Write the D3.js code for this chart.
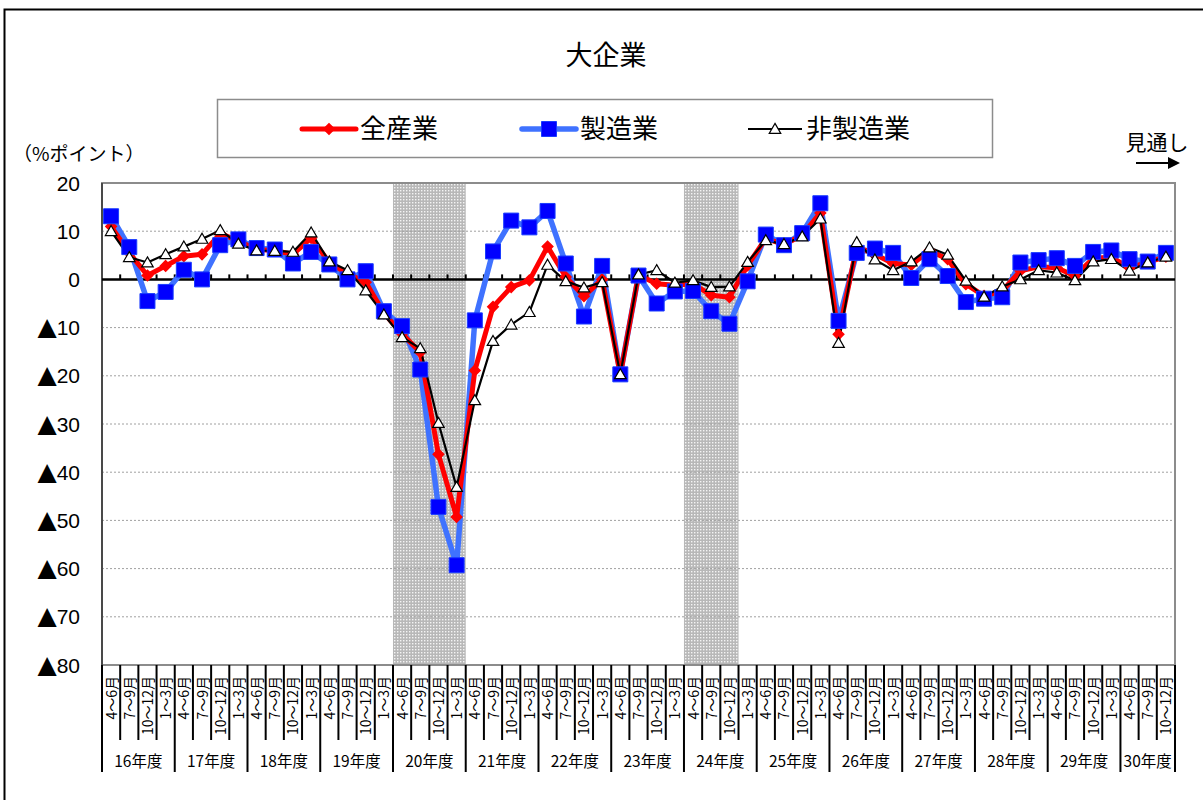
<!DOCTYPE html>
<html>
<head>
<meta charset="utf-8">
<script src="https://cdn.jsdelivr.net/npm/d3@7"></script>
<style>
  body { margin: 0; background: #fff; }
  svg { display: block; font-family: "Noto Sans CJK JP", "Liberation Sans", sans-serif; }
</style>
</head>
<body>
<div id="chart"></div>
<script>
// fiscal years and quarters
const years = ['16年度', '17年度', '18年度', '19年度', '20年度', '21年度', '22年度', '23年度',
  '24年度', '25年度', '26年度', '27年度', '28年度', '29年度', '30年度'];
const quartersPerYear = [4, 4, 4, 4, 4, 4, 4, 4, 4, 4, 4, 4, 4, 4, 3];
const quarterLabels = ['4～6月', '7～9月', '10～12月', '1～3月'];

// 全産業
const allIndustry = [11, 5.5, 0.8, 2.8, 4.8, 5.2, 9.5, 8, 6.2, 6,
  5.2, 8.6, 3.5, 1.2, -0.6, -7, -11.3, -15.1, -36.3, -49.3,
  -18.9, -5.7, -1.6, -0.2, 6.8, 0.5, -3.5, 0, -19.8, 0.9,
  -0.9, -1.2, -0.9, -3.3, -3.7, 2.9, 8.5, 7.2, 9.2, 13.8,
  -11.4, 6.8, 5.2, 3.3, 3.0, 6.0, 4.2, -1.0, -3.4, -2.4,
  1.8, 2.6, 2.4, 0.7, 4.4, 4.6, 2.4, 3.6, 4.7];
// 製造業
const manufacturing = [13.1, 6.7, -4.5, -2.6, 2.0, 0, 7.1, 8.3, 6.5, 6.2,
  3.3, 5.7, 3.1, 0, 1.7, -6.6, -9.7, -18.7, -47.2, -59.3,
  -8.5, 5.8, 12.2, 10.8, 14.2, 3.3, -7.7, 2.8, -19.7, 0.8,
  -5.0, -2.5, -2.4, -6.6, -9.2, -0.4, 9.3, 7.1, 9.6, 15.8,
  -8.6, 5.5, 6.4, 5.5, 0.3, 4.2, 0.7, -4.7, -4.0, -3.7,
  3.5, 4.0, 4.4, 2.8, 5.7, 6.0, 4.2, 3.7, 5.5];
// 非製造業
const nonManufacturing = [10, 4.6, 3.5, 5.2, 6.8, 8.4, 10.2, 7.4, 6.0, 5.9,
  5.7, 9.7, 3.7, 1.9, -2.3, -7.3, -12, -14.3, -29.8, -43.1,
  -25.1, -12.8, -9.4, -6.8, 3.0, -0.4, -1.7, -0.6, -19.7, 1.0,
  1.9, -0.7, -0.2, -1.6, -1.5, 3.6, 8.1, 7.3, 8.9, 12.6,
  -13.2, 7.7, 4.1, 1.9, 3.7, 6.6, 5.1, -0.3, -3.6, -1.5,
  0, 1.9, 1.4, -0.2, 3.7, 4.2, 1.8, 3.5, 4.7];

const yTicks = [20, 10, 0, -10, -20, -30, -40, -50, -60, -70, -80];
// shaded periods: [first index, last index]
const shaded = [[16, 19], [32, 34]];

const width = 1203, height = 800;
const plot = { left: 102, right: 1175, top: 183, bottom: 665 };

// build categories
const categories = [];
years.forEach((yr, yi) => {
  for (let q = 0; q < quartersPerYear[yi]; q++) {
    categories.push({ id: yr + q, year: yr, label: quarterLabels[q], q });
  }
});

const svg = d3.select('#chart').append('svg')
  .attr('width', width)
  .attr('height', height);

const defs = svg.append('defs');
const pat = defs.append('pattern')
  .attr('id', 'dots')
  .attr('width', 3).attr('height', 3)
  .attr('patternUnits', 'userSpaceOnUse');
pat.append('rect').attr('width', 3).attr('height', 3).attr('fill', '#b8b8b8');
pat.append('rect').attr('x', 1).attr('y', 1).attr('width', 1.4).attr('height', 1.4).attr('fill', '#f4f4f4');

// outer frame
svg.append('rect')
  .attr('x', 4.5).attr('y', 9.5)
  .attr('width', 1300).attr('height', 900)
  .attr('fill', 'none').attr('stroke', '#000').attr('stroke-width', 2);

// title
svg.append('text')
  .attr('x', 606).attr('y', 65)
  .attr('text-anchor', 'middle')
  .attr('font-size', 27)
  .text('大企業');

const x = d3.scaleBand()
  .domain(categories.map(d => d.id))
  .range([plot.left, plot.right]);

const y = d3.scaleLinear()
  .domain([-80, 20])
  .range([plot.bottom, plot.top]);

const xc = i => x(categories[i].id) + x.bandwidth() / 2;

// shaded periods
svg.append('g').selectAll('rect')
  .data(shaded)
  .join('rect')
  .attr('x', d => x(categories[d[0]].id))
  .attr('width', d => x(categories[d[1]].id) + x.bandwidth() - x(categories[d[0]].id))
  .attr('y', plot.top)
  .attr('height', plot.bottom - plot.top)
  .attr('fill', 'url(#dots)');

// gridlines
svg.append('g').selectAll('line')
  .data(yTicks.filter(t => t !== 0 && t !== 20 && t !== -80))
  .join('line')
  .attr('x1', plot.left).attr('x2', plot.right)
  .attr('y1', d => y(d)).attr('y2', d => y(d))
  .attr('stroke', '#a0a0a0')
  .attr('stroke-width', 1)
  .attr('stroke-dasharray', '2,2');

// plot border
svg.append('rect')
  .attr('x', plot.left).attr('y', plot.top)
  .attr('width', plot.right - plot.left)
  .attr('height', plot.bottom - plot.top)
  .attr('fill', 'none')
  .attr('stroke', '#8c8c8c')
  .attr('stroke-width', 2);
svg.append('line')
  .attr('x1', plot.left).attr('x2', plot.left)
  .attr('y1', plot.top).attr('y2', plot.bottom)
  .attr('stroke', '#333').attr('stroke-width', 1.5);

// y axis labels
const yLab = svg.append('g').selectAll('text')
  .data(yTicks)
  .join('text')
  .attr('x', 80)
  .attr('y', d => y(d))
  .attr('dy', '0.36em')
  .attr('text-anchor', 'end')
  .attr('font-size', 21)
  .attr('font-family', '"Liberation Sans", sans-serif');
yLab.filter(d => d < 0).append('tspan')
  .attr('font-family', '"DejaVu Sans", sans-serif')
  .attr('font-size', 25)
  .attr('dx', 0)
  .text('▲');
yLab.append('tspan').text(d => Math.abs(d));

svg.append('text')
  .attr('x', 13).attr('y', 161)
  .attr('font-size', 19)
  .text('（%ポイント）');

// zero line with ticks
svg.append('line')
  .attr('x1', plot.left).attr('x2', plot.right)
  .attr('y1', y(0)).attr('y2', y(0))
  .attr('stroke', '#000').attr('stroke-width', 2.5);
svg.append('g').selectAll('line')
  .data(d3.range(1, categories.length))
  .join('line')
  .attr('x1', i => x(categories[i].id)).attr('x2', i => x(categories[i].id))
  .attr('y1', y(0)).attr('y2', y(0) - 5)
  .attr('stroke', '#000').attr('stroke-width', 2);

// x axis category table
const axisG = svg.append('g');
const boundaries = d3.range(categories.length + 1);
axisG.selectAll('line.q')
  .data(boundaries)
  .join('line')
  .attr('class', 'q')
  .attr('x1', i => plot.left + i * x.bandwidth())
  .attr('x2', i => plot.left + i * x.bandwidth())
  .attr('y1', plot.bottom)
  .attr('y2', i => (i === 0 || i === categories.length || categories[i].q === 0) ? 772 : 740)
  .attr('stroke', '#000')
  .attr('stroke-width', 2);

axisG.selectAll('text.q')
  .data(categories)
  .join('text')
  .attr('class', 'q')
  .attr('transform', (d, i) => `translate(${xc(i) + 5.5},${plot.bottom + 11}) rotate(-90)`)
  .attr('text-anchor', 'end')
  .attr('font-size', 14)
  .text(d => d.label);

let start = 0;
const yearPos = years.map((yr, yi) => {
  const s = start;
  start += quartersPerYear[yi];
  return { yr, mid: plot.left + (s + quartersPerYear[yi] / 2) * x.bandwidth() };
});
axisG.selectAll('text.yr')
  .data(yearPos)
  .join('text')
  .attr('class', 'yr')
  .attr('x', d => d.mid)
  .attr('y', 767)
  .attr('text-anchor', 'middle')
  .attr('font-size', 15.5)
  .text(d => d.yr);

// series
const series = [
  { name: '全産業', values: allIndustry, color: '#ff0000', width: 5, marker: 'diamond' },
  { name: '製造業', values: manufacturing, color: '#3f72ff', width: 5.5, marker: 'square' },
  { name: '非製造業', values: nonManufacturing, color: '#000000', width: 2.2, marker: 'triangle' }
];
const drawOrder = [series[1], series[0], series[2]];

const line = d3.line()
  .x((d, i) => xc(i))
  .y(d => y(d));

svg.append('g').selectAll('path')
  .data(drawOrder)
  .join('path')
  .attr('d', d => line(d.values))
  .attr('fill', 'none')
  .attr('stroke', d => d.color)
  .attr('stroke-width', d => d.width)
  .attr('stroke-linejoin', 'round');

const symbolPath = {
  diamond: d3.symbol().type(d3.symbolDiamond2).size(70)(),
  square: d3.symbol().type(d3.symbolSquare).size(225)(),
  triangle: d3.symbol().type(d3.symbolTriangle2).size(95)()
};

function drawMarkers(g, s, xs, ys) {
  if (s.marker === 'diamond') {
    g.append('path').attr('d', symbolPath.diamond)
      .attr('transform', `translate(${xs},${ys})`)
      .attr('fill', '#ff0000').attr('stroke', '#ff0000').attr('stroke-width', 1.5);
  } else if (s.marker === 'square') {
    g.append('path').attr('d', symbolPath.square)
      .attr('transform', `translate(${xs},${ys})`)
      .attr('fill', '#0000ff').attr('stroke', '#1a3cff').attr('stroke-width', 1);
  } else {
    g.append('path').attr('d', symbolPath.triangle)
      .attr('transform', `translate(${xs},${ys + 1})`)
      .attr('fill', '#fff').attr('stroke', '#000').attr('stroke-width', 1.2);
  }
}

[series[0], series[1], series[2]].forEach(s => {
  const g = svg.append('g');
  s.values.forEach((v, i) => drawMarkers(g, s, xc(i), y(v)));
});

// legend
svg.append('rect')
  .attr('x', 217.5).attr('y', 99.5)
  .attr('width', 775).attr('height', 58)
  .attr('fill', '#fff')
  .attr('stroke', '#8c8c8c').attr('stroke-width', 1.5);

const legendX = [302, 522, 748];
series.forEach((s, k) => {
  const lg = svg.append('g');
  const lx = legendX[k];
  lg.append('line')
    .attr('x1', lx).attr('x2', lx + 54)
    .attr('y1', 129).attr('y2', 129)
    .attr('stroke', s.color)
    .attr('stroke-width', s.width)
    .attr('stroke-linecap', k === 2 ? 'butt' : 'round');
  drawMarkers(lg, s, lx + 27, 129);
  lg.append('text')
    .attr('x', lx + 58).attr('y', 129)
    .attr('dy', '0.36em')
    .attr('font-size', 26)
    .text(s.name);
});

// outlook marker
svg.append('text')
  .attr('x', 1157).attr('y', 150)
  .attr('text-anchor', 'middle')
  .attr('font-size', 21)
  .text('見通し');
svg.append('line')
  .attr('x1', 1136).attr('x2', 1170)
  .attr('y1', 163).attr('y2', 163)
  .attr('stroke', '#000').attr('stroke-width', 2);
svg.append('path')
  .attr('d', 'M1168,157 L1180,163 L1168,169 Z')
  .attr('fill', '#000');
</script>
</body>
</html>
